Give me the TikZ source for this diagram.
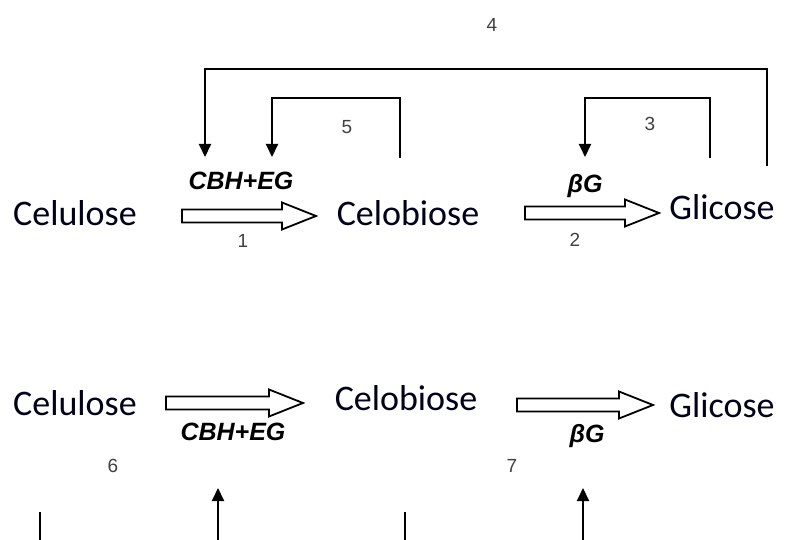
\documentclass[tikz,border=0pt]{standalone}
\usepackage{fontspec}
\setmainfont{Carlito}
\newfontfamily\arialf{Liberation Sans}
\usetikzlibrary{arrows.meta}
\begin{document}
\begin{tikzpicture}[x=1pt,y=-1pt,
  word/.style={font=\fontsize{36}{40}\selectfont, text=black!90!blue, inner sep=0pt},
  enz/.style={font=\arialf\bfseries\itshape\fontsize{25}{28}\selectfont, inner sep=0pt},
  num/.style={font=\arialf\fontsize{19}{22}\selectfont, text=black!75, inner sep=0pt},
  fb/.style={line width=2pt, -{Triangle[length=13pt,width=12pt]}},
  fbline/.style={line width=2pt},
  harr/.style={line width=1.8pt, fill=white, line join=miter}]
\useasboundingbox (0,0) rectangle (787,540);
\clip (0,0) rectangle (787,540);
\newcommand{\harrow}[3]{\draw[harr] (#1,#3-6.5) -- (#2-34,#3-6.5) -- (#2-34,#3-13.5) -- (#2,#3) -- (#2-34,#3+13.5) -- (#2-34,#3+6.5) -- (#1,#3+6.5) -- cycle;}
% top row
\node[word] (cel1) at (75,213) {Celulose};
\node[word] (cb1) at (408,213) {Celobiose};
\node[word] (gl1) at (722,207) {Glicose};
\harrow{182}{316}{216}
\harrow{525}{659}{213}
\node[enz] (e1) at (241,181) {CBH+EG};
\node[enz] (e2) at (585,186) {βG};
\node[num] (n1) at (243,241) {1};
\node[num] (n2) at (575,240) {2};
\node[num] (n3) at (650,124) {3};
\node[num] (n4) at (492,25) {4};
\node[num] (n5) at (347,127) {5};
\coordinate (s4) at (767,166); \coordinate (t4) at (205,157);
\coordinate (s5) at (400,158); \coordinate (t5) at (272,157);
\coordinate (s3) at (710,158); \coordinate (t3) at (585,157);
\draw[fb] (s4) -- (767,69) -| (t4);
\draw[fb] (s5) -- (400,98) -| (t5);
\draw[fb] (s3) -- (710,98) -| (t3);
% bottom row
\node[word] (cel2) at (75,403) {Celulose};
\node[word] (cb2) at (406,398) {Celobiose};
\node[word] (gl2) at (722,405) {Glicose};
\harrow{166}{303}{403}
\harrow{517}{653}{405}
\node[enz] (e3) at (233,432) {CBH+EG};
\node[enz] (e4) at (587,436) {βG};
\node[num] (n6) at (113,466) {6};
\node[num] (n7) at (512,466) {7};
\coordinate (b1) at (40,512); \coordinate (b1e) at (40,545);
\coordinate (b2) at (218,488); \coordinate (b2s) at (218,545);
\coordinate (b3) at (405,512); \coordinate (b3e) at (405,545);
\coordinate (b4) at (583,488); \coordinate (b4s) at (583,545);
\draw[fbline] (b1) -- (b1e);
\draw[fb] (b2s) -- (b2);
\draw[fbline] (b3) -- (b3e);
\draw[fb] (b4s) -- (b4);
\end{tikzpicture}
\end{document}
